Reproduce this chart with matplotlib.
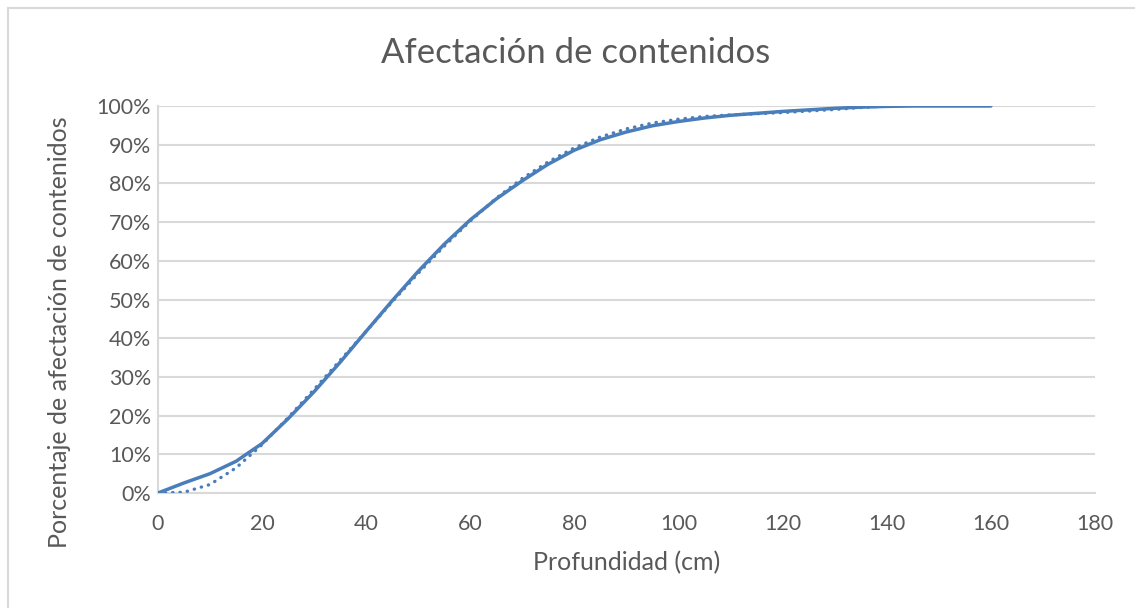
import numpy as np
import matplotlib.pyplot as plt
from matplotlib.patches import Rectangle
from matplotlib.ticker import FuncFormatter

# depth (cm) and share of affected contents (%)
depth = [0, 5, 10, 15, 20, 25, 30, 35, 40, 45, 50, 55, 60, 65, 70, 75, 80,
         85, 90, 95, 100, 105, 110, 115, 120, 125, 130, 135, 140, 145, 150,
         155, 160]
affected = [0, 2.6, 5.0, 8.2, 12.8, 19.2, 26.2, 33.8, 41.8, 49.7, 57.3, 64.3,
            70.6, 76.0, 80.7, 85.0, 88.6, 91.3, 93.3, 94.9, 96.0, 96.9, 97.6,
            98.1, 98.6, 99.0, 99.4, 99.7, 99.9, 100, 100, 100, 100]

# fitted curve (dotted)
fit_depth = [0, 5, 10, 15, 20, 25, 30, 35, 40, 45, 50, 55, 60, 65, 70, 75,
             80, 85, 90, 95, 100, 105, 110, 115, 120, 125, 130, 135, 140]
fit_affected = [0, 0.2, 2.2, 6.5, 12.5, 19.5, 26.8, 34.3, 41.8, 49.4, 56.8,
                63.8, 70.3, 76.2, 81.3, 85.6, 89.2, 92.0, 94.1, 95.6, 96.6,
                97.3, 97.7, 98.0, 98.3, 98.7, 99.1, 99.6, 100.0]

x_ticks = np.arange(0, 181, 20)
y_ticks = np.arange(0, 101, 10)

text_col = '#595959'
grid_col = '#D9D9D9'
line_col = '#4A7EBB'

plt.rcParams['font.family'] = ['Lato', 'DejaVu Sans']

fig = plt.figure(figsize=(11.35, 6.08), dpi=100)
# chart frame (right and bottom edges fall outside the canvas)
fig.patches.append(Rectangle((8 / 1135, -0.1), 1.2, 1.1 - 8 / 608,
                             transform=fig.transFigure, fill=False,
                             edgecolor=grid_col, linewidth=1.5))
ax = fig.add_axes([158 / 1135, 1 - 493 / 608, (1095 - 158) / 1135, (493 - 106) / 608])

ax.plot(fit_depth, fit_affected, color=line_col, linewidth=2.4,
        linestyle=(0, (0.1, 2.1)), dash_capstyle='round', zorder=3)
ax.plot(depth, affected, color=line_col, linewidth=2.5,
        solid_capstyle='round', solid_joinstyle='round', zorder=4)

ax.set_xlim(0, 180)
ax.set_ylim(0, 100)
ax.set_xticks(x_ticks)
ax.set_yticks(y_ticks)
ax.yaxis.set_major_formatter(FuncFormatter(lambda v, p: f'{v:.0f}%'))
ax.grid(axis='y', color=grid_col, linewidth=1.5)
ax.set_axisbelow(True)
for s in ['top', 'right']:
    ax.spines[s].set_visible(False)
for s in ['left', 'bottom']:
    ax.spines[s].set_color(grid_col)
    ax.spines[s].set_linewidth(1.5)
ax.tick_params(length=0, labelsize=15.5, labelcolor=text_col)
ax.tick_params(axis='x', pad=15)
ax.tick_params(axis='y', pad=5)

ax.set_xlabel('Profundidad (cm)', fontsize=18, color=text_col, labelpad=12)
ax.set_ylabel('Porcentaje de afectación de contenidos', fontsize=18,
              color=text_col, va='center', ha='center')
ax.yaxis.set_label_coords(-0.1046, 0.416)
fig.text(0.5075, 1 - 53 / 608, 'Afectación de contenidos', fontsize=25,
         color=text_col, ha='center', va='center')

plt.savefig('out.png', dpi=100)
